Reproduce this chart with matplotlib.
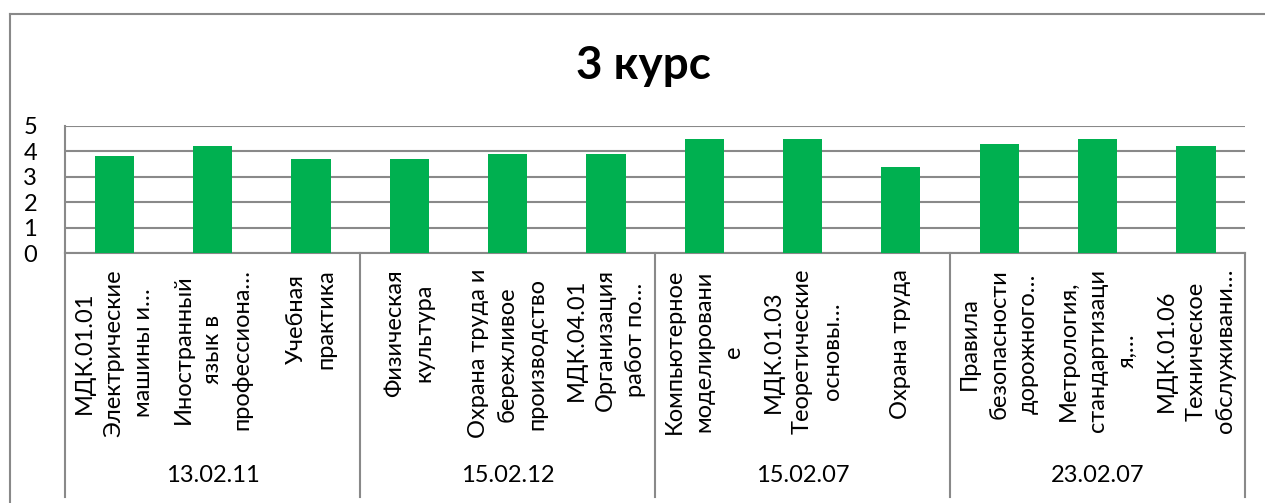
import numpy as np
import matplotlib

matplotlib.use("Agg")
import matplotlib.pyplot as plt
from matplotlib.lines import Line2D
from matplotlib.transforms import blended_transform_factory

plt.rcParams["font.family"] = ["Lato", "DejaVu Sans"]

title = "3 курс"
groups = ["13.02.11", "15.02.12", "15.02.07", "23.02.07"]
group_sizes = [3, 3, 3, 3]
labels = [
    "МДК.01.01\nЭлектрические\nмашины и…",
    "Иностранный\nязык в\nпрофессиона…",
    "Учебная\nпрактика",
    "Физическая\nкультура",
    "Охрана труда и\nбережливое\nпроизводство",
    "МДК.04.01\nОрганизация\nработ по…",
    "Компьютерное\nмоделировани\nе",
    "МДК.01.03\nТеоретические\nосновы…",
    "Охрана труда",
    "Правила\nбезопасности\nдорожного…",
    "Метрология,\nстандартизаци\nя,…",
    "МДК.01.06\nТехническое\nобслуживани…",
]
values = [3.8, 4.2, 3.7, 3.7, 3.9, 3.9, 4.5, 4.5, 3.4, 4.3, 4.5, 4.2]

W, H = 1265, 503
fig = plt.figure(figsize=(W / 100, H / 100), dpi=100)
ax = fig.add_axes([65 / W, 1 - 253 / H, (1245 - 65) / W, (253 - 126) / H])

gray = "#898989"
x = np.arange(len(values))
ax.bar(x, values, width=0.4, color="#00B050", zorder=3)
ax.set_xlim(-0.5, len(values) - 0.5)
ax.set_ylim(0, 5)
ax.set_yticks(range(6))
ax.yaxis.grid(True, color=gray, lw=1.5, zorder=0)
ax.tick_params(axis="y", length=0, pad=20, labelsize=17)
ax.set_xticks([])
for s in ["top", "right"]:
    ax.spines[s].set_visible(False)
for s in ["left", "bottom"]:
    ax.spines[s].set_color(gray)
    ax.spines[s].set_linewidth(1.5)

trans = blended_transform_factory(ax.transData, ax.transAxes)
ah = 253 - 126
for xi, lab in zip(x, labels):
    ax.text(xi, -(269 - 253) / ah, lab, rotation=90, ha="center", va="top",
            multialignment="center", fontsize=17, linespacing=1.5,
            transform=trans)

# group labels and separators
bounds = np.concatenate([[0], np.cumsum(group_sizes)]) - 0.5
bottom_y = -(497 - 253) / ah
for b in bounds:
    ax.add_line(Line2D([b, b], [0, bottom_y], color=gray, lw=1.5,
                       transform=trans, clip_on=False))
for g, lo, hi in zip(groups, bounds[:-1], bounds[1:]):
    ax.text((lo + hi) / 2, -(476 - 253) / ah, g, ha="center", va="center",
            fontsize=17, transform=trans)

fig.text(643 / W, 1 - 66 / H, title, ha="center", va="center",
         fontsize=33, fontweight="bold")

# chart border
fig.add_artist(Line2D([10 / W, 10 / W], [0, 1 - 14 / H], color=gray, lw=1.5))
fig.add_artist(Line2D([10 / W, 1], [1 - 14 / H, 1 - 14 / H], color=gray, lw=1.5))

fig.savefig("out.png", dpi=100)
